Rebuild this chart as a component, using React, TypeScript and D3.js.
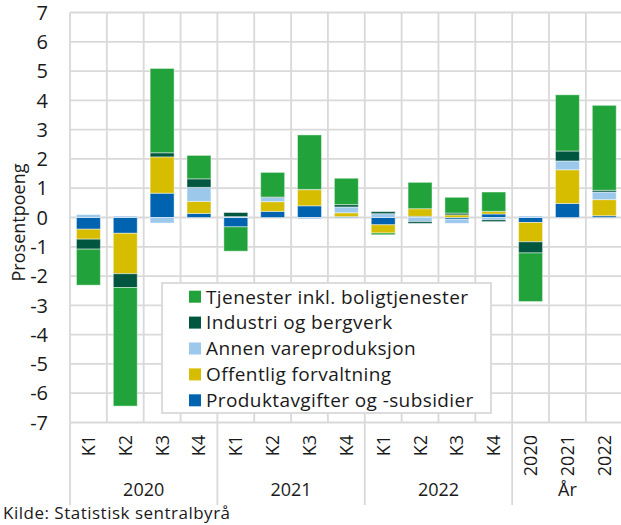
import React, { useRef, useEffect } from 'react';
import { select, scaleBand, scaleLinear, stack, stackOffsetDiverging, stackOrderNone, range } from 'd3';

const categories = ['K1', 'K2', 'K3', 'K4', 'K1', 'K2', 'K3', 'K4', 'K1', 'K2', 'K3', 'K4', '2020', '2021', '2022'];
const groupLabels = ['2020', '2021', '2022', 'År'];
const groupSizes = [4, 4, 4, 3];
const yTicks = [7, 6, 5, 4, 3, 2, 1, 0, -1, -2, -3, -4, -5, -6, -7];

const seriesNames = [
    'Produktavgifter og -subsidier',
    'Offentlig forvaltning',
    'Annen vareproduksjon',
    'Industri og bergverk',
    'Tjenester inkl. boligtjenester',
];
const seriesColors = ['#0063AF', '#D6BD00', '#9CC8EC', '#00563F', '#21A23A'];

const produkt = [-0.40, -0.54, 0.83, 0.14, -0.32, 0.21, 0.40, 0.03, -0.25, 0.04, -0.06, 0.12, -0.17, 0.48, 0.06];
const offentlig = [-0.34, -1.38, 1.24, 0.41, 0.00, 0.33, 0.55, 0.13, -0.28, 0.26, 0.09, 0.09, -0.66, 1.15, 0.55];
const annen = [0.10, 0.05, -0.19, 0.48, 0.03, 0.14, -0.05, 0.20, 0.13, -0.14, -0.14, -0.08, 0.05, 0.30, 0.26];
const industri = [-0.34, -0.47, 0.14, 0.29, 0.14, 0.02, 0.01, 0.08, 0.07, -0.06, 0.06, -0.06, -0.38, 0.34, 0.06];
const tjenester = [-1.23, -4.05, 2.88, 0.80, -0.83, 0.84, 1.86, 0.90, -0.06, 0.90, 0.54, 0.66, -1.66, 1.92, 2.90];

const FONT = '"Open Sans", "Noto Sans", sans-serif';

export default function App() {
    const chartRef = useRef<SVGSVGElement | null>(null);

    useEffect(() => {
        if (!chartRef.current) return;
        const svg = select(chartRef.current);
        svg.selectAll('*').remove();

        const left = 70, right = 622.7, top = 12.5, bottom = 422.5;
        const gridColor = '#d9d9d9';
        const textColor = '#1a1a1a';

        const rows = categories.map((c, i) => ({
            i,
            v0: produkt[i], v1: offentlig[i], v2: annen[i], v3: industri[i], v4: tjenester[i],
        }));
        const keys = ['v0', 'v1', 'v2', 'v3', 'v4'];

        const x = scaleBand<number>()
            .domain(range(categories.length))
            .range([left, right])
            .paddingInner(0.35)
            .paddingOuter(0.175);
        const step = x.step();
        const y = scaleLinear().domain([-7, 7]).range([bottom, top]);

        // horizontal grid
        svg.append('g')
            .selectAll('line')
            .data(yTicks)
            .join('line')
            .attr('x1', left).attr('x2', right)
            .attr('y1', d => y(d)).attr('y2', d => y(d))
            .attr('stroke', gridColor).attr('stroke-width', 1.8);

        // vertical grid at category boundaries
        svg.append('g')
            .selectAll('line')
            .data(range(categories.length + 1))
            .join('line')
            .attr('x1', d => left + d * step).attr('x2', d => left + d * step)
            .attr('y1', top).attr('y2', bottom)
            .attr('stroke', gridColor).attr('stroke-width', 1.8);

        // group separators below the plot
        let acc = 0;
        const bounds = [0];
        groupSizes.forEach(n => { acc += n; bounds.push(acc); });
        svg.append('g')
            .selectAll('line')
            .data(bounds)
            .join('line')
            .attr('x1', d => left + d * step).attr('x2', d => left + d * step)
            .attr('y1', bottom).attr('y2', 505)
            .attr('stroke', gridColor).attr('stroke-width', 1.8);

        // stacked bars
        const stacked = stack<any>()
            .keys(keys)
            .order(stackOrderNone)
            .offset(stackOffsetDiverging)(rows);

        svg.append('g')
            .selectAll('g')
            .data(stacked)
            .join('g')
            .attr('fill', (_, k) => seriesColors[k])
            .selectAll('rect')
            .data(d => d)
            .join('rect')
            .attr('x', d => x(d.data.i) as number)
            .attr('width', x.bandwidth())
            .attr('y', d => y(Math.max(d[0], d[1])))
            .attr('height', d => Math.abs(y(d[0]) - y(d[1])))
            .attr('stroke', 'rgba(255,255,255,0.45)')
            .attr('stroke-width', 1);

        // y tick labels
        svg.append('g')
            .selectAll('text')
            .data(yTicks)
            .join('text')
            .attr('x', 48)
            .attr('y', d => y(d))
            .attr('dy', '0.36em')
            .attr('text-anchor', 'end')
            .style('font-family', FONT)
            .style('font-size', '20px')
            .style('fill', textColor)
            .text(d => String(d));

        svg.append('text')
            .attr('transform', `translate(25, ${(top + bottom) / 2 + 5}) rotate(-90)`)
            .attr('text-anchor', 'middle')
            .style('font-family', FONT)
            .style('font-size', '18px')
            .style('fill', textColor)
            .text('Prosentpoeng');

        // category labels
        svg.append('g')
            .selectAll('text')
            .data(categories)
            .join('text')
            .attr('transform', (_, i) => `translate(${(x(i) as number) + x.bandwidth() / 2}, 435) rotate(-90)`)
            .attr('dy', '0.36em')
            .attr('text-anchor', 'end')
            .style('font-family', FONT)
            .style('font-size', '18px')
            .style('fill', textColor)
            .text(d => d);

        // group labels
        svg.append('g')
            .selectAll('text')
            .data(groupLabels)
            .join('text')
            .attr('x', (_, g) => left + (bounds[g] + bounds[g + 1]) / 2 * step)
            .attr('y', 496)
            .attr('text-anchor', 'middle')
            .style('font-family', FONT)
            .style('font-size', '18px')
            .style('fill', textColor)
            .text(d => d);

        svg.append('text')
            .attr('x', 3)
            .attr('y', 519)
            .style('font-family', FONT)
            .style('font-size', '17px')
            .style('letter-spacing', '0.5px')
            .style('fill', textColor)
            .text('Kilde: Statistisk  sentralbyrå');

        // legend
        const lg = svg.append('g');
        lg.append('rect')
            .attr('x', 162).attr('y', 283)
            .attr('width', 329).attr('height', 130)
            .attr('fill', '#fff')
            .attr('stroke', gridColor).attr('stroke-width', 1.8);
        const legendOrder = [4, 3, 2, 1, 0];
        const item = lg.selectAll('g')
            .data(legendOrder)
            .join('g')
            .attr('transform', (_, j) => `translate(189, ${296.7 + j * 25.9})`);
        item.append('rect')
            .attr('x', 0).attr('y', -6)
            .attr('width', 12).attr('height', 12)
            .attr('fill', k => seriesColors[k]);
        item.append('text')
            .attr('x', 17)
            .attr('dy', '0.36em')
            .style('font-family', FONT)
            .style('font-size', '19px')
            .style('letter-spacing', '0.4px')
            .style('fill', textColor)
            .text(k => seriesNames[k]);
    }, []);

    return (
        <svg
            ref={chartRef}
            width={621}
            height={525}
            style={{ position: 'absolute', left: 0, top: 0, background: '#fff' }}
        ></svg>
    );
}
